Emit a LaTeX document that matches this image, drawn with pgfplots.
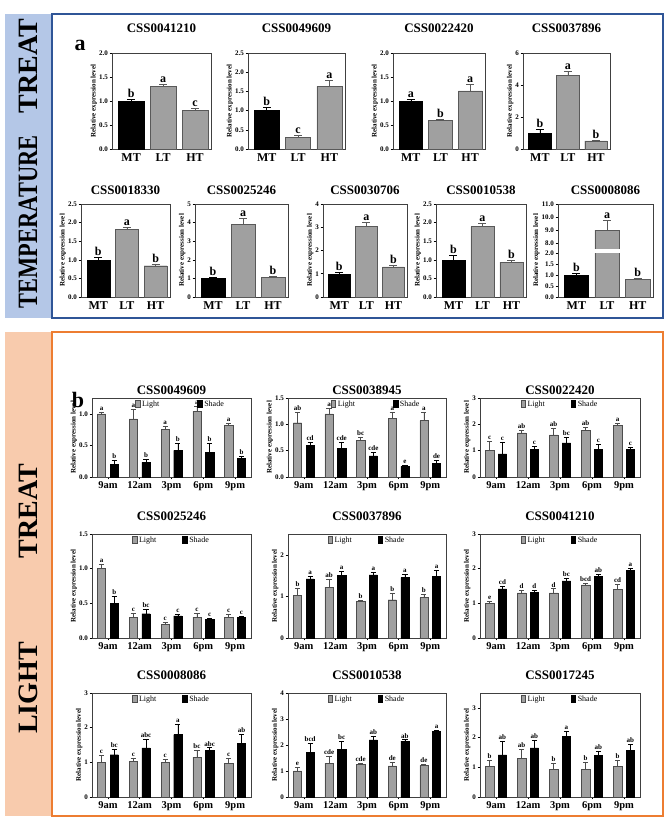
\documentclass[border=0pt]{standalone}
\usepackage{fontspec}
\setmainfont{Liberation Serif}
\usepackage{graphicx}
\usepackage{pgfplots}
\usepackage{pgfplotstable}
\pgfplotsset{compat=1.18}

\definecolor{barg}{HTML}{A0A0A0}
\definecolor{bluefill}{HTML}{B4C7E7}
\definecolor{blueline}{HTML}{2F5597}
\definecolor{peach}{HTML}{F8CBAD}
\definecolor{orangeline}{HTML}{ED7D31}

\pgfplotsset{
  rel/.style={scale only axis, ymin=0, clip=false,
    axis line style={black!75, line width=0.6pt},
    tick align=outside, xtick pos=bottom, ytick pos=left,
    major tick length=2.5pt, tick style={black, line width=0.5pt},
    ylabel={Relative expression level},
    ylabel style={font=\bfseries\fontsize{7}{8}\selectfont, yshift=-3pt},
    yticklabel style={font=\bfseries\fontsize{7}{8}\selectfont, inner sep=1.5pt},
    /pgf/number format/assume math mode=true,
    title style={font=\bfseries\fontsize{13}{14}\selectfont}},
  dec/.style={yticklabel style={/pgf/number format/.cd, fixed, fixed zerofill, precision=1}},
  int/.style={yticklabel style={/pgf/number format/.cd, fixed, precision=0}},
  pa/.style={rel, xmin=-0.6, xmax=2.5, xtick={0,1,2}, xticklabels={MT,LT,HT},
    xticklabel style={font=\bfseries\fontsize{12}{12}\selectfont, inner sep=2pt},
    major x tick style={draw=none}},
  pb/.style={rel, xmin=-0.5, xmax=4.5, xtick={0,1,2,3,4},
    xticklabels={9am,12am,3pm,6pm,9pm},
    xticklabel style={font=\bfseries\fontsize{10.5}{11}\selectfont, inner sep=2pt},
    legend style={at={(0.5,1)}, yshift=-1pt, anchor=north, draw=none, fill=none,
      legend columns=2, font=\fontsize{8}{9}\selectfont, inner sep=0pt,
      /tikz/every even column/.append style={column sep=24pt}},
    legend cell align=left},
  pbtop/.style={pb, legend style={at={(0.27,1)}, anchor=north west,
      /tikz/every even column/.append style={column sep=36pt}}},
  ebar/.style 2 args={/pgfplots/error bars/y dir=plus, /pgfplots/error bars/y explicit,
    /pgfplots/error bars/error bar style={line width=0.6pt, #1},
    /pgfplots/error bars/error mark options={rotate=90, line width=0.6pt, mark size=#2, #1}},
  lab/.style={black, draw=none, mark=none, nodes near coords, point meta=explicit symbolic,
    every node near coord/.append style={font=#1, inner sep=1.5pt, anchor=south}},
  sq/.style={legend image code/.code={\draw[##1] (0pt,-2.5pt) rectangle (4.5pt,4.5pt);}},
}

% panel a: MT, LT, HT
\pgfplotstableread{
x y e l
0 1.00 0.04 b
1 1.30 0.05 a
2 0.80 0.04 c
}\taA
\pgfplotstableread{
x y e l
0 1.00 0.08 b
1 0.31 0.05 c
2 1.63 0.15 a
}\taB
\pgfplotstableread{
x y e l
0 1.00 0.03 a
1 0.59 0.03 b
2 1.21 0.13 a
}\taC
\pgfplotstableread{
x y e l
0 1.00 0.20 b
1 4.62 0.25 a
2 0.50 0.06 b
}\taD
\pgfplotstableread{
x y e l
0 1.00 0.07 b
1 1.82 0.05 a
2 0.84 0.05 b
}\taE
\pgfplotstableread{
x y e l
0 1.00 0.05 b
1 3.92 0.30 a
2 1.06 0.05 b
}\taF
\pgfplotstableread{
x y e l
0 1.00 0.05 b
1 3.05 0.15 a
2 1.30 0.08 b
}\taG
\pgfplotstableread{
x y e l
0 1.00 0.11 b
1 1.89 0.10 a
2 0.94 0.05 b
}\taH
\pgfplotstableread{
x y e l
0 1.00 0.08 b
1 9.00 0.75 a
2 0.80 0.06 b
}\taI

% panel b: Light / Shade at 9am..9pm
\pgfplotstableread{
x L Le Ll S Se Sl
0 1.00 0.03 a 0.20 0.06 b
1 0.92 0.15 a 0.23 0.05 b
2 0.75 0.05 a 0.42 0.12 b
3 1.04 0.08 a 0.39 0.15 b
4 0.82 0.03 a 0.30 0.03 b
}\tbA
\pgfplotstableread{
x L Le Ll S Se Sl
0 1.03 0.20 ab 0.60 0.06 cd
1 1.20 0.10 a 0.55 0.10 cde
2 0.70 0.05 bc 0.40 0.07 cde
3 1.12 0.10 a 0.20 0.02 e
4 1.07 0.15 a 0.26 0.06 de
}\tbB
\pgfplotstableread{
x L Le Ll S Se Sl
0 1.00 0.35 c 0.88 0.45 c
1 1.68 0.10 ab 1.05 0.10 c
2 1.60 0.25 ab 1.30 0.20 bc
3 1.78 0.12 ab 1.05 0.20 c
4 1.95 0.10 a 1.04 0.10 c
}\tbC
\pgfplotstableread{
x L Le Ll S Se Sl
0 1.00 0.07 a 0.50 0.10 b
1 0.30 0.05 c 0.35 0.06 bc
2 0.20 0.02 c 0.32 0.02 c
3 0.30 0.05 c 0.27 0.02 c
4 0.30 0.04 c 0.30 0.02 c
}\tbD
\pgfplotstableread{
x L Le Ll S Se Sl
0 1.03 0.17 b 1.42 0.06 a
1 1.22 0.20 ab 1.50 0.10 a
2 0.88 0.03 b 1.52 0.05 a
3 0.92 0.15 b 1.45 0.08 a
4 0.97 0.08 b 1.48 0.15 a
}\tbE
\pgfplotstableread{
x L Le Ll S Se Sl
0 1.00 0.06 e 1.42 0.06 cd
1 1.30 0.08 d 1.32 0.06 d
2 1.30 0.12 d 1.65 0.08 bc
3 1.53 0.05 bcd 1.78 0.07 ab
4 1.40 0.15 cd 1.95 0.05 a
}\tbF
\pgfplotstableread{
x L Le Ll S Se Sl
0 1.00 0.20 c 1.22 0.15 bc
1 1.03 0.10 c 1.42 0.25 abc
2 1.00 0.08 c 1.80 0.30 a
3 1.15 0.20 bc 1.35 0.07 abc
4 0.97 0.15 c 1.55 0.25 ab
}\tbG
\pgfplotstableread{
x L Le Ll S Se Sl
0 1.00 0.15 e 1.72 0.35 bcd
1 1.30 0.25 cde 1.83 0.30 bc
2 1.25 0.05 cde 2.20 0.15 ab
3 1.20 0.12 de 2.15 0.05 ab
4 1.22 0.03 de 2.52 0.05 a
}\tbH
\pgfplotstableread{
x L Le Ll S Se Sl
0 1.03 0.22 b 1.42 0.45 ab
1 1.30 0.30 ab 1.65 0.25 ab
2 0.92 0.22 b 2.05 0.15 a
3 0.93 0.25 b 1.40 0.15 ab
4 1.03 0.22 b 1.58 0.18 ab
}\tbI

\newcommand{\barsA}[1]{%
  \addplot[ybar, bar width=0.8, bar shift=0pt, fill=black, draw=black,
    restrict x to domain=-0.5:0.5, ebar={black}{4pt}] table[x=x, y=y, y error=e]{#1};
  \addplot[ybar, bar width=0.8, bar shift=0pt, fill=barg, draw=black!65,
    restrict x to domain=0.5:2.5, ebar={black!65}{4pt}] table[x=x, y=y, y error=e]{#1};
  \addplot[lab=\bfseries\fontsize{12}{12}\selectfont]
    table[x=x, y expr=\thisrow{y}+\thisrow{e}, meta=l]{#1};
}
\newcommand{\barsB}[1]{%
  \addplot[ybar, sq, bar width=0.26, bar shift=0pt, fill=barg, draw=black!70,
    ebar={black!70}{2.6pt}] table[x expr=\thisrow{x}-0.2, y=L, y error=Le]{#1};
  \addlegendentry{Light}
  \addplot[ybar, sq, bar width=0.26, bar shift=0pt, fill=black, draw=black,
    ebar={black}{2.6pt}] table[x expr=\thisrow{x}+0.2, y=S, y error=Se]{#1};
  \addlegendentry{Shade}
  \addplot[lab=\bfseries\fontsize{7}{8}\selectfont, forget plot]
    table[x expr=\thisrow{x}-0.2, y expr=\thisrow{L}+\thisrow{Le}, meta=Ll]{#1};
  \addplot[lab=\bfseries\fontsize{7}{8}\selectfont, forget plot]
    table[x expr=\thisrow{x}+0.2, y expr=\thisrow{S}+\thisrow{Se}, meta=Sl]{#1};
}

\begin{document}
\begin{tikzpicture}[x=1pt, y=1pt]
\path[use as bounding box] (0,0) rectangle (669,828);
% frames
\fill[bluefill] (5,510) rectangle (52,814);
\draw[blueline, line width=2.2pt] (52,510) rectangle (663,814);
\fill[peach] (5,12) rectangle (52,496);
\draw[orangeline, line width=2.2pt] (52,12) rectangle (663,496);
\node[rotate=90, font=\bfseries\fontsize{28}{28}\selectfont] at (28,762) {TREAT};
\node[rotate=90, font=\bfseries\fontsize{28}{28}\selectfont] at (28,606) {\scalebox{0.8}[1]{TEMPERATURE}};
\node[rotate=90, font=\bfseries\fontsize{28}{28}\selectfont] at (28,317) {TREAT};
\node[rotate=90, font=\bfseries\fontsize{28}{28}\selectfont] at (28,140) {LIGHT};
\node[font=\bfseries\fontsize{22}{22}\selectfont] at (80,783) {a};
\node[font=\bfseries\fontsize{22}{22}\selectfont] at (78,428) {b};

% ---- panel a, row 1
\begin{axis}[pa, dec, at={(112pt,679pt)}, anchor=south west, width=99pt, height=96pt,
  ymax=2, ytick={0,0.5,1,1.5,2}, title={CSS0041210}, title style={yshift=11pt}]
\barsA{\taA}
\end{axis}
\begin{axis}[pa, dec, at={(248pt,679pt)}, anchor=south west, width=97pt, height=96pt,
  ymax=2.5, ytick={0,0.5,1,1.5,2,2.5}, title={CSS0049609}, title style={yshift=11pt}]
\barsA{\taB}
\end{axis}
\begin{axis}[pa, dec, at={(393pt,679pt)}, anchor=south west, width=92pt, height=96pt,
  ymax=2, ytick={0,0.5,1,1.5,2}, title={CSS0022420}, title style={yshift=11pt}]
\barsA{\taC}
\end{axis}
\begin{axis}[pa, int, at={(523pt,679pt)}, anchor=south west, width=87pt, height=96pt,
  ymax=6, ytick={0,2,4,6}, title={CSS0037896}, title style={yshift=11pt}]
\barsA{\taD}
\end{axis}

% ---- panel a, row 2
\begin{axis}[pa, dec, at={(81pt,531pt)}, anchor=south west, width=89pt, height=93pt,
  ymax=2.5, ytick={0,0.5,1,1.5,2,2.5}, title={CSS0018330}]
\barsA{\taE}
\end{axis}
\begin{axis}[pa, int, at={(195pt,531pt)}, anchor=south west, width=93pt, height=93pt,
  ymax=5, ytick={0,1,2,3,4,5}, title={CSS0025246}]
\barsA{\taF}
\end{axis}
\begin{axis}[pa, int, at={(323pt,531pt)}, anchor=south west, width=84pt, height=93pt,
  ymax=4, ytick={0,1,2,3,4}, title={CSS0030706}]
\barsA{\taG}
\end{axis}
\begin{axis}[pa, dec, at={(436pt,531pt)}, anchor=south west, width=90pt, height=93pt,
  ymax=2.5, ytick={0,0.5,1,1.5,2,2.5}, title={CSS0010538}]
\barsA{\taH}
\end{axis}
% broken axis: 0-2 linear, 8-11 compressed (0.6 per unit) from 2.47
\begin{axis}[pa, at={(558pt,531pt)}, anchor=south west, width=95pt, height=93pt,
  ymax=4.27, ytick={0,0.5,1,1.5,2,2.47,3.07,3.67,4.27},
  yticklabels={0.0,0.5,1.0,1.5,2.0,8.0,9.0,10.0,11.0}, title={CSS0008086}]
\addplot[ybar, bar width=0.8, bar shift=0pt, fill=black, draw=black,
  restrict x to domain=-0.5:0.5, ebar={black}{4pt}] table[x=x, y=y, y error=e]{\taI};
\addplot[ybar, bar width=0.8, bar shift=0pt, fill=barg, draw=black!65,
  restrict x to domain=0.5:2.5, ebar={black!65}{4pt}]
  table[x=x, y expr={\thisrow{y}>2 ? 2.47+(\thisrow{y}-8)*0.6 : \thisrow{y}},
        y error expr={\thisrow{y}>2 ? 0.6*\thisrow{e} : \thisrow{e}}]{\taI};
\fill[white] (axis cs:0.55,2.02) rectangle (axis cs:1.45,2.2);
\addplot[lab=\bfseries\fontsize{12}{12}\selectfont]
  table[x=x, y expr={\thisrow{y}>2 ? 2.47+(\thisrow{y}-8)*0.6+0.6*\thisrow{e} : \thisrow{y}+\thisrow{e}}, meta=l]{\taI};
\end{axis}

% ---- panel b, row 1
\begin{axis}[pbtop, dec, at={(92pt,351pt)}, anchor=south west, width=159pt, height=79pt,
  ymax=1.25, ytick={0,0.5,1}, title={CSS0049609}, title style={yshift=-6pt}]
\barsB{\tbA}
\end{axis}
\begin{axis}[pbtop, dec, at={(288pt,351pt)}, anchor=south west, width=158pt, height=79pt,
  ymax=1.5, ytick={0,0.5,1,1.5}, title={CSS0038945}, title style={yshift=-6pt}]
\barsB{\tbB}
\end{axis}
\begin{axis}[pb, int, at={(480pt,351pt)}, anchor=south west, width=160pt, height=79pt,
  ymax=3, ytick={0,1,2,3}, title={CSS0022420}, title style={yshift=-6pt}]
\barsB{\tbC}
\end{axis}

% ---- panel b, row 2
\begin{axis}[pb, dec, at={(92pt,190pt)}, anchor=south west, width=159pt, height=104pt,
  ymax=1.5, ytick={0,0.5,1,1.5}, title={CSS0025246}, title style={yshift=4pt}]
\barsB{\tbD}
\end{axis}
\begin{axis}[pb, int, at={(288pt,190pt)}, anchor=south west, width=158pt, height=104pt,
  ymax=2.5, ytick={0,1,2}, title={CSS0037896}, title style={yshift=4pt}]
\barsB{\tbE}
\end{axis}
\begin{axis}[pb, int, at={(480pt,190pt)}, anchor=south west, width=160pt, height=104pt,
  ymax=3, ytick={0,1,2,3}, title={CSS0041210}, title style={yshift=4pt}]
\barsB{\tbF}
\end{axis}

% ---- panel b, row 3
\begin{axis}[pb, int, at={(92pt,31pt)}, anchor=south west, width=159pt, height=104pt,
  ymax=3, ytick={0,1,2,3}, title={CSS0008086}, title style={yshift=4pt}]
\barsB{\tbG}
\end{axis}
\begin{axis}[pb, int, at={(288pt,31pt)}, anchor=south west, width=158pt, height=104pt,
  ymax=4, ytick={0,1,2,3,4}, title={CSS0010538}, title style={yshift=4pt}]
\barsB{\tbH}
\end{axis}
\begin{axis}[pb, int, at={(480pt,31pt)}, anchor=south west, width=160pt, height=104pt,
  ymax=3.5, ytick={0,1,2,3}, title={CSS0017245}, title style={yshift=4pt}]
\barsB{\tbI}
\end{axis}
\end{tikzpicture}
\end{document}
